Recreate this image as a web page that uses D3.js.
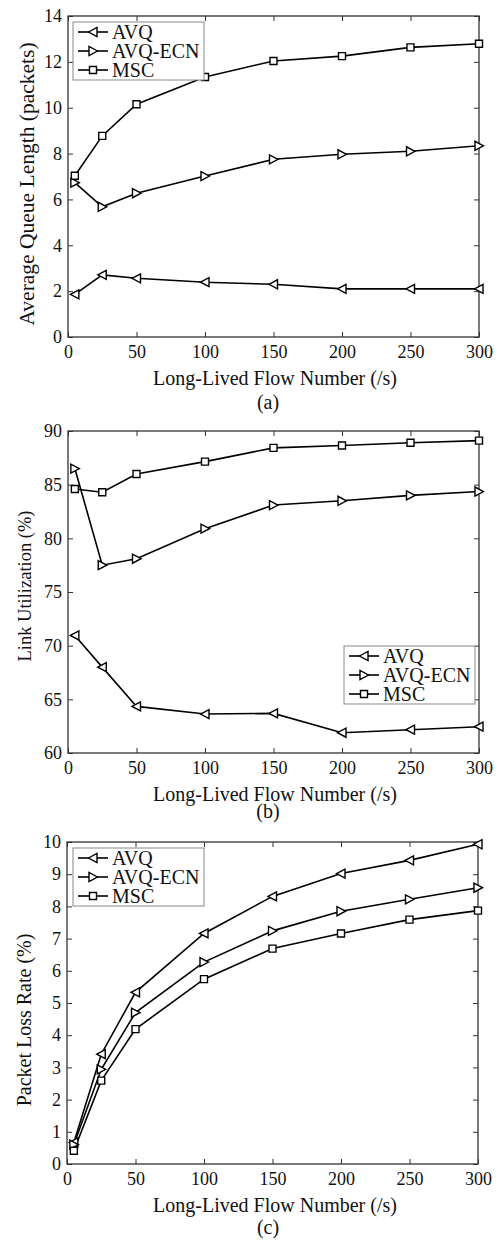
<!DOCTYPE html>
<html lang="en">
<head>
    <meta charset="UTF-8">
    <title>AVQ / AVQ-ECN / MSC</title>
    <style>
        body {
            margin: 0;
            background: #fff;
        }
        svg text {
            font-family: "Liberation Serif", "Times New Roman", serif;
            fill: #111;
        }
    </style>
</head>
<body>
<script src="https://cdn.jsdelivr.net/npm/d3@7"></script>
<script>

    // data
    var flows = [5, 25, 50, 100, 150, 200, 250, 300];
    var xTicks = [0, 50, 100, 150, 200, 250, 300];
    var seriesNames = ['AVQ', 'AVQ-ECN', 'MSC'];

    var queueAVQ = [1.86, 2.71, 2.56, 2.39, 2.30, 2.10, 2.10, 2.10];
    var queueECN = [6.73, 5.68, 6.27, 7.02, 7.75, 7.97, 8.10, 8.34];
    var queueMSC = [7.03, 8.77, 10.15, 11.34, 12.04, 12.25, 12.63, 12.79];
    var queueTicks = [0, 2, 4, 6, 8, 10, 12, 14];

    var utilAVQ = [70.95, 68.0, 64.34, 63.63, 63.69, 61.89, 62.17, 62.45];
    var utilECN = [86.5, 77.5, 78.1, 80.9, 83.1, 83.5, 84.0, 84.36];
    var utilMSC = [84.6, 84.3, 86.0, 87.15, 88.43, 88.65, 88.9, 89.1];
    var utilTicks = [60, 65, 70, 75, 80, 85, 90];

    var lossAVQ = [0.67, 3.41, 5.33, 7.16, 8.31, 9.02, 9.43, 9.93];
    var lossECN = [0.60, 2.94, 4.70, 6.27, 7.24, 7.85, 8.22, 8.58];
    var lossMSC = [0.41, 2.59, 4.19, 5.74, 6.69, 7.16, 7.59, 7.87];
    var lossTicks = [0, 1, 2, 3, 4, 5, 6, 7, 8, 9, 10];

    var width = 499,
        height = 1242;

    var svg = d3.select('body').append('svg')
        .attr('width', width)
        .attr('height', height);

    var symbols = {
        'AVQ': 'M-4.5,0L4,-4.5L4,4.5Z',
        'AVQ-ECN': 'M4.5,0L-4,-4.5L-4,4.5Z',
        'MSC': 'M-3.5,-3.5H3.5V3.5H-3.5Z'
    };

    function panel(p) {
        var x = d3.scaleLinear().domain([0, 300]).range([p.left, p.right]);
        var y = d3.scaleLinear().domain([p.ticks[0], p.ticks[p.ticks.length - 1]]).range([p.bottom, p.top]);
        var g = svg.append('g');

        // ticks on all four sides, pointing inwards
        g.append('g')
            .attr('transform', 'translate(0,' + p.bottom + ')')
            .call(d3.axisBottom(x).tickValues(xTicks).tickSize(-5).tickPadding(8.5))
            .call(style);
        g.append('g')
            .attr('transform', 'translate(0,' + p.top + ')')
            .call(d3.axisTop(x).tickValues(xTicks).tickSize(-5).tickFormat(''))
            .call(style);
        g.append('g')
            .attr('transform', 'translate(' + p.left + ',0)')
            .call(d3.axisLeft(y).tickValues(p.ticks).tickSize(-5).tickPadding(6))
            .call(style);
        g.append('g')
            .attr('transform', 'translate(' + p.right + ',0)')
            .call(d3.axisRight(y).tickValues(p.ticks).tickSize(-5).tickFormat(''))
            .call(style);

        g.append('rect')
            .attr('x', p.left)
            .attr('y', p.top)
            .attr('width', p.right - p.left)
            .attr('height', p.bottom - p.top)
            .attr('fill', 'none')
            .attr('stroke', '#333')
            .attr('stroke-width', 1.3);

        var line = d3.line()
            .x((d, i) => x(flows[i]))
            .y(d => y(d));

        p.series.forEach(function (vals) {
            g.append('path')
                .datum(vals)
                .attr('d', line)
                .attr('fill', 'none')
                .attr('stroke', '#000')
                .attr('stroke-width', 1.6);
        });
        p.series.forEach(function (vals, k) {
            g.selectAll('.m' + k)
                .data(vals)
                .enter()
                .append('path')
                .attr('transform', (d, i) => 'translate(' + x(flows[i]) + ',' + y(d) + ')')
                .attr('d', symbols[seriesNames[k]])
                .attr('fill', '#fff')
                .attr('stroke', '#000')
                .attr('stroke-width', 1.4);
        });

        // legend
        var lg = g.append('g').attr('transform', 'translate(' + p.legend[0] + ',' + p.legend[1] + ')');
        lg.append('rect')
            .attr('width', 131)
            .attr('height', 58)
            .attr('fill', '#fff')
            .attr('stroke', '#888')
            .attr('stroke-width', 1);
        seriesNames.forEach(function (name, k) {
            var ly = 10 + k * 19;
            lg.append('line')
                .attr('x1', 5).attr('x2', 35)
                .attr('y1', ly).attr('y2', ly)
                .attr('stroke', '#000')
                .attr('stroke-width', 1.6);
            lg.append('path')
                .attr('transform', 'translate(20,' + ly + ')')
                .attr('d', symbols[name])
                .attr('fill', '#fff')
                .attr('stroke', '#000')
                .attr('stroke-width', 1.4);
            lg.append('text')
                .attr('x', 39)
                .attr('y', ly)
                .attr('dy', '0.35em')
                .attr('font-size', 20)
                .text(name);
        });

        // labels
        g.append('text')
            .attr('transform', 'translate(' + p.yLabelPos[0] + ',' + p.yLabelPos[1] + ') rotate(-90)')
            .attr('text-anchor', 'middle')
            .attr('font-size', p.yLabelSize)
            .text(p.yLabel);
        g.append('text')
            .attr('x', 275)
            .attr('y', p.bottom + 48)
            .attr('text-anchor', 'middle')
            .attr('font-size', 20)
            .text('Long-Lived Flow Number (/s)');
        g.append('text')
            .attr('x', 268)
            .attr('y', p.bottom + p.captionGap)
            .attr('text-anchor', 'middle')
            .attr('font-size', 20)
            .text(p.caption);
    }

    function style(sel) {
        sel.select('.domain').remove();
        sel.selectAll('line').attr('stroke', '#333').attr('stroke-width', 1);
        sel.selectAll('text')
            .attr('font-family', '"Liberation Serif", serif')
            .attr('font-size', 18)
            .attr('fill', '#111');
    }

    panel({
        left: 68, right: 479, top: 16, bottom: 337,
        ticks: queueTicks,
        series: [queueAVQ, queueECN, queueMSC],
        legend: [73, 22],
        yLabel: 'Average Queue Length (packets)', yLabelSize: 21.5, yLabelPos: [34, 184],
        caption: '(a)', captionGap: 72
    });

    panel({
        left: 68, right: 479, top: 431, bottom: 753,
        ticks: utilTicks,
        series: [utilAVQ, utilECN, utilMSC],
        legend: [344, 646],
        yLabel: 'Link Utilization (%)', yLabelSize: 18.5, yLabelPos: [31, 586],
        caption: '(b)', captionGap: 65
    });

    panel({
        left: 67, right: 478, top: 842, bottom: 1164,
        ticks: lossTicks,
        series: [lossAVQ, lossECN, lossMSC],
        legend: [73, 848],
        yLabel: 'Packet Loss Rate (%)', yLabelSize: 20, yLabelPos: [31, 1020],
        caption: '(c)', captionGap: 70
    });
</script>
</body>
</html>
